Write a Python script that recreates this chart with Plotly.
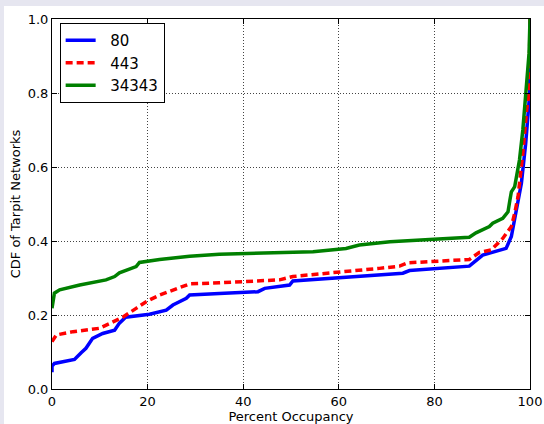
import plotly.graph_objects as go

series_names = ["80", "443", "34343"]
series_colors = ["#0000ff", "#ff0000", "#008000"]

x_80 = [0, 0, 0.5, 4.7, 6.1, 7.1, 8.5, 10.6, 13.1, 14.1, 15.4, 20.4, 23.9, 25.3, 28.1, 28.8, 35,
        43.1, 44.5, 49.7, 50.4, 64.3, 73.4, 74.8, 87.3, 90.1, 95.0, 96.1, 97.1, 98.2, 99.1, 99.8, 99.95, 100]
y_80 = [0.045, 0.062, 0.069, 0.080, 0.098, 0.11, 0.137, 0.150, 0.159, 0.178, 0.194, 0.202, 0.213, 0.227,
        0.245, 0.254, 0.258, 0.263, 0.272, 0.281, 0.292, 0.304, 0.313, 0.320, 0.332, 0.362, 0.380, 0.412,
        0.484, 0.556, 0.664, 0.763, 0.80, 1.0]

x_443 = [0, 0.9, 4.4, 9.9, 12.4, 14.8, 17.6, 19.7, 22.5, 25.3, 28.8, 35, 44.8, 47.6, 50.4, 58.7, 60.8,
         68.5, 72.7, 74.4, 87.3, 89.4, 91.9, 94.3, 96.1, 96.8, 97.5, 98.5, 99.3, 99.8, 100]
y_443 = [0.128, 0.146, 0.155, 0.164, 0.179, 0.194, 0.218, 0.236, 0.254, 0.268, 0.284, 0.287, 0.292,
         0.295, 0.304, 0.313, 0.317, 0.326, 0.332, 0.341, 0.350, 0.369, 0.376, 0.407, 0.439, 0.475,
         0.52, 0.637, 0.754, 0.80, 1.0]

x_34343 = [0, 0.5, 1.6, 5.8, 11.3, 13.1, 14.1, 17.6, 18.3, 22.5, 28.8, 35, 54.6, 61.5, 64.3, 70.7,
           87.3, 88.7, 91.5, 92.2, 94.3, 95.4, 95.8, 96.1, 96.8, 97.8, 98.5, 99.2, 99.8, 100]
y_34343 = [0.218, 0.259, 0.268, 0.281, 0.295, 0.304, 0.314, 0.331, 0.342, 0.350, 0.359, 0.364, 0.371,
           0.380, 0.389, 0.398, 0.41, 0.422, 0.439, 0.448, 0.461, 0.479, 0.511, 0.533, 0.547, 0.619,
           0.70, 0.80, 0.907, 1.0]

x_ticks = [0, 20, 40, 60, 80, 100]
y_ticks = [0.0, 0.2, 0.4, 0.6, 0.8, 1.0]

FONT = "DejaVu Sans"

fig = go.Figure()
data = [(x_80, y_80), (x_443, y_443), (x_34343, y_34343)]
dashes = ["solid", "7px,4px", "solid"]
for (xs, ys), name, color, dash in zip(data, series_names, series_colors, dashes):
    fig.add_trace(go.Scatter(x=xs, y=ys, mode="lines", name="\u00a0\u00a0" + name,
                             line=dict(color=color, width=3.5, dash=dash)))

W, H = 544, 424
ml, mr, mt, mb = 52, 14, 19, 35
pw, ph = W - ml - mr, H - mt - mb

# white page area over lavender border (top and left strips)
fig.add_shape(type="rect", xref="paper", yref="paper", layer="below",
              x0=(4 - ml) / pw, x1=1.3,
              y0=-0.4, y1=(H - mb - 6) / ph,
              fillcolor="white", line=dict(width=0))

axis_common = dict(
    showline=True, linecolor="black", linewidth=1, mirror="ticks",
    ticks="inside", ticklen=5, tickcolor="black",
    showgrid=True, gridcolor="#444", gridwidth=1, griddash="1px,2px",
    zeroline=False, automargin=False,
    tickfont=dict(family=FONT, size=13, color="black"),
)

fig.update_xaxes(range=[0, 100], tickvals=x_ticks, ticktext=[str(v) for v in x_ticks],
                 title=dict(text="Percent Occupancy", font=dict(family=FONT, size=13, color="black"), standoff=0),
                 **axis_common)
fig.update_yaxes(range=[0, 1], tickvals=y_ticks, ticktext=[f"{v:.1f}" for v in y_ticks],
                 title=dict(text="CDF of Tarpit Networks", font=dict(family=FONT, size=13, color="black"), standoff=4),
                 **axis_common)

fig.update_layout(
    width=W, height=H,
    margin=dict(l=ml, r=mr, t=mt, b=mb),
    paper_bgcolor="#e6e6f0", plot_bgcolor="white",
    font=dict(family=FONT, size=13, color="black"),
    showlegend=True,
    legend=dict(x=0.016, y=0.989, xanchor="left", yanchor="top",
                bgcolor="white", bordercolor="black", borderwidth=1,
                font=dict(family=FONT, size=15, color="black"),
                tracegroupgap=0),
)

fig.write_html("out.html", config={"displayModeBar": False},
               post_script="document.body.style.margin='0';document.body.style.overflow='hidden';")
